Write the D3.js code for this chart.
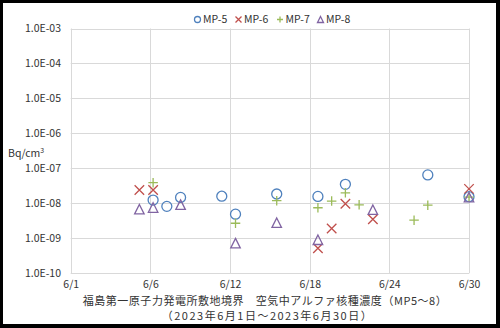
<!DOCTYPE html>
<html>
<head>
<meta charset="utf-8">
<script src="https://cdn.jsdelivr.net/npm/d3@7"></script>
<style>
  html, body { margin: 0; padding: 0; background: #000; }
  svg { display: block; }
</style>
</head>
<body>
<script>
// Sampling day (June 2023) and concentration (Bq/cm3) for each monitoring post
const mp5Days = [7, 8, 9, 12, 13, 16, 19, 21, 27, 30];
const mp5Vals = [1.24e-8, 8.2e-9, 1.48e-8, 1.6e-8, 4.9e-9, 1.85e-8, 1.58e-8, 3.5e-8, 6.5e-8, 1.55e-8];
const mp6Days = [6, 7, 19, 20, 21, 23, 30];
const mp6Vals = [2.4e-8, 2.4e-8, 5.2e-10, 1.9e-9, 9.7e-9, 3.5e-9, 2.6e-8];
const mp7Days = [7, 13, 16, 19, 20, 21, 22, 26, 27, 30];
const mp7Vals = [3.9e-8, 2.7e-9, 1.19e-8, 7.5e-9, 1.16e-8, 2.0e-8, 9.1e-9, 3.3e-9, 8.9e-9, 1.5e-8];
const mp8Days = [6, 7, 9, 13, 16, 19, 23, 30];
const mp8Vals = [6.8e-9, 7.6e-9, 9.2e-9, 7.3e-10, 2.8e-9, 9.1e-10, 6.6e-9, 1.5e-8];

const seriesNames = ["MP-5", "MP-6", "MP-7", "MP-8"];
const xTicks = [1, 6.8, 12.6, 18.4, 24.2, 30];
const xTickLabels = ["6/1", "6/6", "6/12", "6/18", "6/24", "6/30"];
const yTicks = [1e-10, 1e-9, 1e-8, 1e-7, 1e-6, 1e-5, 1e-4, 1e-3];
const yTickLabels = ["1.0E-10", "1.0E-09", "1.0E-08", "1.0E-07", "1.0E-06", "1.0E-05", "1.0E-04", "1.0E-03"];
const yUnit = "Bq/cm";
const title1 = "福島第一原子力発電所敷地境界\u3000空気中アルファ核種濃度（MP5～8）";
const title2 = "（2023年6月1日～2023年6月30日）";

const series = [
  { name: seriesNames[0], days: mp5Days, vals: mp5Vals, shape: "circle",   color: "#4F81BD" },
  { name: seriesNames[1], days: mp6Days, vals: mp6Vals, shape: "x",        color: "#C0504D" },
  { name: seriesNames[2], days: mp7Days, vals: mp7Vals, shape: "plus",     color: "#9BBB59" },
  { name: seriesNames[3], days: mp8Days, vals: mp8Vals, shape: "triangle", color: "#8064A2" }
];

const W = 500, H = 328;
const font = "'Noto Sans CJK JP', 'Noto Sans', sans-serif";
const svg = d3.select("body").append("svg").attr("width", W).attr("height", H);

// white card with dark frame
svg.append("rect").attr("x", 3).attr("y", 3).attr("width", 493).attr("height", 321).attr("fill", "#fff");

const x = d3.scaleLinear().domain([1, 30]).range([70.7, 469]);
const y = d3.scaleLog().domain([1e-10, 1e-3]).range([273.3, 28.5]);

// gridlines
const grid = svg.append("g").attr("stroke", "#d9d9d9").attr("stroke-width", 1);
grid.selectAll("line.h").data(yTicks).join("line")
  .attr("x1", x(1)).attr("x2", x(30))
  .attr("y1", d => Math.round(y(d)) + 0.5).attr("y2", d => Math.round(y(d)) + 0.5);
grid.selectAll("line.v").data(xTicks).join("line")
  .attr("y1", y(1e-3)).attr("y2", y(1e-10))
  .attr("x1", d => Math.round(x(d)) + 0.5).attr("x2", d => Math.round(x(d)) + 0.5);

// y axis labels
const yAxis = d3.axisLeft(y).tickValues(yTicks).tickSize(0).tickPadding(0)
  .tickFormat((d, i) => yTickLabels[i]);
const gy = svg.append("g").attr("transform", "translate(61,0)").call(yAxis);
gy.select(".domain").remove();
gy.selectAll("text").attr("font-family", font).attr("font-size", 10.5).attr("fill", "#333");

// x axis labels
const xAxis = d3.axisBottom(x).tickValues(xTicks).tickSize(0).tickPadding(0)
  .tickFormat((d, i) => xTickLabels[i]);
const gx = svg.append("g").attr("transform", "translate(0,280.5)").call(xAxis);
gx.select(".domain").remove();
gx.selectAll("text").attr("font-family", font).attr("font-size", 10.5).attr("fill", "#333");

// unit label
const unit = svg.append("text").attr("x", 8).attr("y", 157)
  .attr("font-family", font).attr("font-size", 10.5).attr("fill", "#333").text(yUnit);
unit.append("tspan").attr("dy", -4).attr("font-size", 7).text("3");

// marker drawing
function marker(g, shape, color, s) {
  const h = s * 0.5;
  if (shape === "circle") {
    g.append("circle").attr("r", h).attr("fill", "none").attr("stroke", color).attr("stroke-width", 1.3);
  } else if (shape === "x") {
    g.append("path").attr("d", `M${-h},${-h}L${h},${h}M${-h},${h}L${h},${-h}`)
      .attr("stroke", color).attr("stroke-width", 1.3).attr("fill", "none");
  } else if (shape === "plus") {
    g.append("path").attr("d", `M${-h},0L${h},0M0,${-h}L0,${h}`)
      .attr("stroke", color).attr("stroke-width", 1.3).attr("fill", "none");
  } else {
    g.append("path").attr("d", `M0,${-h}L${h},${h}L${-h},${h}Z`)
      .attr("stroke", color).attr("stroke-width", 1.3).attr("fill", "none");
  }
}

series.forEach(sr => {
  const g = svg.append("g");
  sr.days.forEach((d, i) => {
    const m = g.append("g").attr("transform", `translate(${x(d)},${y(sr.vals[i])})`);
    marker(m, sr.shape, sr.color, sr.shape === "circle" ? 10 : 9.5);
  });
});

// legend
const legendX = [197.5, 238.5, 280, 320.5];
const legend = svg.append("g");
series.forEach((sr, i) => {
  const m = legend.append("g").attr("transform", `translate(${legendX[i]},19.5)`);
  marker(m, sr.shape, sr.color, 6);
  legend.append("text").attr("x", legendX[i] + 5.5).attr("y", 19.5).attr("dy", "0.35em")
    .attr("font-family", font).attr("font-size", 10.5).attr("fill", "#333").text(sr.name);
});

// titles
svg.append("text").attr("x", 264.7).attr("y", 301.3).attr("dy", "0.35em").attr("text-anchor", "middle")
  .attr("font-family", font).attr("font-size", 11).attr("fill", "#333")
  .attr("textLength", 364).attr("lengthAdjust", "spacing").text(title1);
svg.append("text").attr("x", 266.7).attr("y", 316.3).attr("dy", "0.35em").attr("text-anchor", "middle")
  .attr("font-family", font).attr("font-size", 11).attr("fill", "#333")
  .attr("textLength", 210).attr("lengthAdjust", "spacing").text(title2);
</script>
</body>
</html>
